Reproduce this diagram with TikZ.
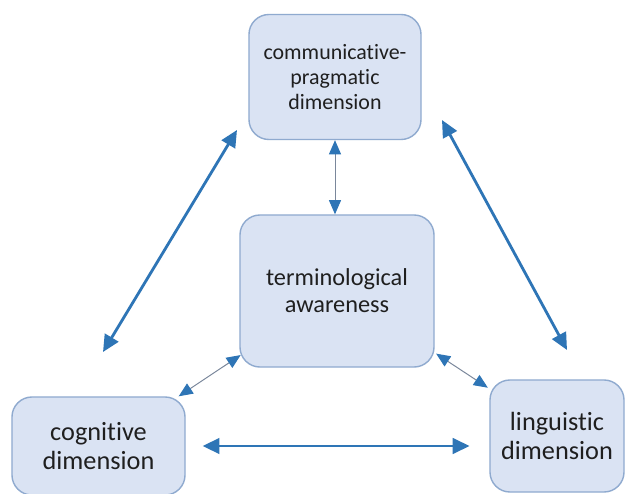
\documentclass[tikz,border=0pt]{standalone}
\usepackage{fontspec}
\setmainfont{Carlito}[Ligatures=NoCommon]
\usetikzlibrary{arrows.meta}
\definecolor{boxfill}{HTML}{DAE3F3}
\definecolor{boxline}{HTML}{8FAACF}
\definecolor{arrowblue}{HTML}{2E75B6}
\definecolor{thinline}{HTML}{7A879B}
\tikzset{
  dimbox/.style={draw=boxline, fill=boxfill, line width=1pt, rounded corners=0.5cm,
    align=center, text=black!88, inner sep=2pt},
  bigarrow/.style={line width=2pt, draw=arrowblue,
    {Triangle[length=12pt,width=11pt]}-{Triangle[length=12pt,width=11pt]}},
  smallarrow/.style={line width=0.7pt, draw=thinline,
    {Triangle[length=10pt,width=8.5pt,color=arrowblue]}-{Triangle[length=10pt,width=8.5pt,color=arrowblue]}}
}
\begin{document}
\begin{tikzpicture}[x=0.025cm,y=-0.025cm]
    \clip (0,0) rectangle (627,494);
    \fill [white] (0,0) rectangle (627,494);
    \node [dimbox, minimum width=4.3cm, minimum height=3.125cm,
      font=\fontsize{15.6}{17.5}\selectfont] (comm) at (335,77)
      {communicative-\\pragmatic\\dimension};
    \node [dimbox, minimum width=4.85cm, minimum height=3.8cm,
      font=\fontsize{17.3}{19.2}\selectfont] (term) at (337,291)
      {terminological\\awareness};
    \node [dimbox, minimum width=4.325cm, minimum height=2.45cm,
      font=\fontsize{18.7}{20.2}\selectfont] (cog) at (98.5,446)
      {cognitive\\dimension};
    \node [dimbox, minimum width=3.35cm, minimum height=2.8cm,
      font=\fontsize{18.7}{20.2}\selectfont] (ling) at (557,436)
      {linguistic\\dimension};
    \coordinate (leftlow) at (103,352);
    \coordinate (lefthigh) at (237,130);
    \coordinate (righthigh) at (442,120);
    \coordinate (rightlow) at (567,350);
    \draw [bigarrow] (leftlow) -- (lefthigh);
    \draw [bigarrow] (righthigh) -- (rightlow);
    \draw [bigarrow, shorten <=12pt, shorten >=14pt] (cog.east) -- (cog.east -| ling.west);
    \draw [smallarrow] (comm.south) -- (comm.south |- term.north);
    \draw [smallarrow] ([xshift=-5pt]cog.north east) -- ([xshift=1pt,yshift=9pt]term.south west);
    \draw [smallarrow] ([xshift=1pt,yshift=10pt]term.south east) -- ([xshift=-1pt,yshift=-6pt]ling.north west);
  \end{tikzpicture}
\end{document}
